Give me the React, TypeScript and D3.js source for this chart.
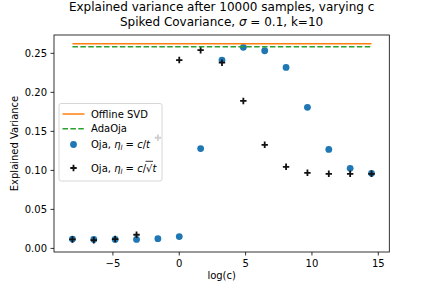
import * as d3 from 'd3'

const LOG_C = [-8.05, -6.44, -4.83, -3.22, -1.61, 0, 1.61, 3.22, 4.83, 6.44, 8.05, 9.66, 11.27, 12.88, 14.49]
const OJA_T = [0.012, 0.0115, 0.0115, 0.0115, 0.0125, 0.0152, 0.128, 0.2414, 0.2577, 0.2533, 0.232, 0.1808, 0.1269, 0.1026, 0.0962]
const OJA_SQRT = [0.0115, 0.0105, 0.012, 0.0175, 0.1418, 0.2414, 0.254, 0.238, 0.189, 0.1328, 0.1046, 0.0969, 0.0956, 0.0956, 0.0956]
const OFFLINE_SVD = 0.2623
const ADAOJA = 0.2585
const X_TICKS = [-5, 0, 5, 10, 15]
const Y_TICKS = [0, 0.05, 0.1, 0.15, 0.2, 0.25]

const W = 432, H = 288
const M = { left: 54, right: 389.3, top: 35, bottom: 252 }
const FONT = 'DejaVu Sans, sans-serif'

export default function App() {
  const x = d3.scaleLinear().domain([-9.44, 15.83]).range([M.left, M.right])
  const y = d3.scaleLinear().domain([-0.0046, 0.2735]).range([M.bottom, M.top])
  const xMin = LOG_C[0], xMax = LOG_C[LOG_C.length - 1]
  const line = d3.line<[number, number]>().x(d => x(d[0])).y(d => y(d[1]))
  const fmtX = (v: number) => (v < 0 ? '\u2212' + Math.abs(v) : String(v))

  const lgX = 59, lgY = 103.5
  return (
    <svg width={W} height={H} style={{ position: 'absolute', left: 0, top: 0, fontFamily: FONT }}>
      <rect width={W} height={H} fill="white" />
      <text x={221.6} y={11} textAnchor="middle" fontSize={12}>Explained variance after 10000 samples, varying c</text>
      <text x={221.6} y={26} textAnchor="middle" fontSize={12}>
        Spiked Covariance, <tspan fontStyle="italic">σ</tspan> = 0.1, k=10
      </text>

      {/* scatter: Oja c/t */}
      {LOG_C.map((c, i) => (
        <circle key={'t' + i} cx={x(c)} cy={y(OJA_T[i])} r={3.4} fill="#1f77b4" />
      ))}
      {/* scatter: Oja c/sqrt(t) */}
      {LOG_C.map((c, i) => {
        const px = x(c), py = y(OJA_SQRT[i])
        return (
          <path key={'s' + i} d={`M${px - 3.2},${py}H${px + 3.2}M${px},${py - 3.2}V${py + 3.2}`} stroke="#111" strokeWidth={1.8} />
        )
      })}

      <path d={line([[xMin, OFFLINE_SVD], [xMax, OFFLINE_SVD]]) ?? ''} stroke="#ff7f0e" strokeWidth={1.5} fill="none" />
      <path d={line([[xMin, ADAOJA], [xMax, ADAOJA]]) ?? ''} stroke="#2ca02c" strokeWidth={1.5} strokeDasharray="5.5,2.4" fill="none" />

      {/* axes frame */}
      <rect x={M.left} y={M.top} width={M.right - M.left} height={M.bottom - M.top} fill="none" stroke="#000" strokeWidth={0.8} />

      {X_TICKS.map(t => (
        <g key={'xt' + t}>
          <line x1={x(t)} x2={x(t)} y1={M.bottom} y2={M.bottom + 3.5} stroke="#000" strokeWidth={0.8} />
          <text x={x(t)} y={M.bottom + 14.5} textAnchor="middle" fontSize={10}>{fmtX(t)}</text>
        </g>
      ))}
      {Y_TICKS.map(t => (
        <g key={'yt' + t}>
          <line x1={M.left - 3.5} x2={M.left} y1={y(t)} y2={y(t)} stroke="#000" strokeWidth={0.8} />
          <text x={M.left - 7} y={y(t) + 3.6} textAnchor="end" fontSize={10}>{d3.format('.2f')(t)}</text>
        </g>
      ))}
      <text x={(M.left + M.right) / 2} y={279} textAnchor="middle" fontSize={10}>log(c)</text>
      <text transform={`translate(17.5,${(M.top + M.bottom) / 2}) rotate(-90)`} textAnchor="middle" fontSize={10}>Explained Variance</text>

      {/* legend */}
      <rect x={lgX} y={lgY} width={103} height={77.5} rx={2} fill="white" fillOpacity={0.8} stroke="#ccc" strokeWidth={0.8} />
      <line x1={62.5} x2={84.5} y1={114} y2={114} stroke="#ff7f0e" strokeWidth={1.5} />
      <text x={91} y={117.6} fontSize={10}>Offline SVD</text>
      <line x1={62.5} x2={84.5} y1={128.7} y2={128.7} stroke="#2ca02c" strokeWidth={1.5} strokeDasharray="5.5,2.4" />
      <text x={91} y={132.3} fontSize={10}>AdaOja</text>
      <circle cx={73.5} cy={144.5} r={3.4} fill="#1f77b4" />
      <text x={91} y={147.6} fontSize={10}>
        Oja, <tspan fontStyle="italic">η</tspan><tspan fontStyle="italic" fontSize={7} dy={2.5}>l</tspan><tspan dy={-2.5}> = </tspan><tspan fontStyle="italic">c</tspan>/<tspan fontStyle="italic">t</tspan>
      </text>
      <path d="M70.3,168H76.7M73.5,164.8V171.2" stroke="#111" strokeWidth={1.8} />
      <text x={91} y={171.8} fontSize={10}>
        Oja, <tspan fontStyle="italic">η</tspan><tspan fontStyle="italic" fontSize={7} dy={2.5}>l</tspan><tspan dy={-2.5}> = </tspan><tspan fontStyle="italic">c</tspan>/√<tspan fontStyle="italic">t</tspan>
      </text>
      <line x1={145.5} x2={153} y1={161.3} y2={161.3} stroke="#000" strokeWidth={0.8} />
    </svg>
  )
}
